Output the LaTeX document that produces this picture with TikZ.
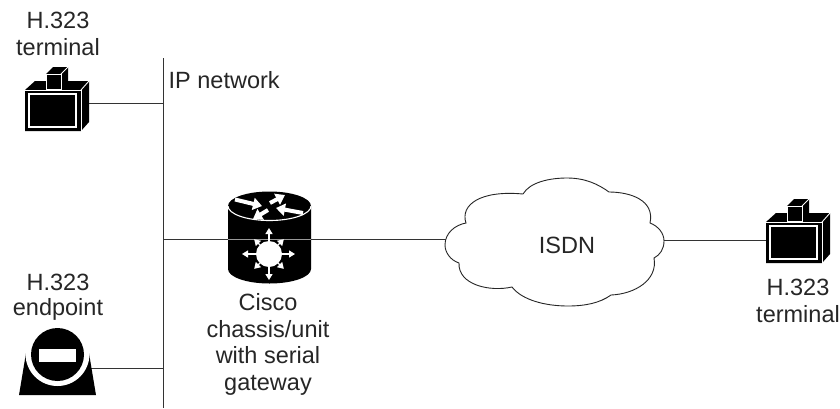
\documentclass[tikz,border=0pt]{standalone}
\usepackage{fontspec}
\setmainfont{Liberation Sans}
\usetikzlibrary{arrows.meta}
\tikzset{
  wire/.style={draw=black!80,line width=0.8pt},
  lbl/.style={align=center,anchor=base,font=\fontsize{23.5}{26.5}\selectfont,text=black!85,inner sep=0pt},
  whiteline/.style={draw=white,line width=1.1pt},
  rarrow/.style={draw=white,line width=4pt,-{Triangle[length=9pt,width=12pt,fill=white]}},
  sarrow/.style={draw=white,line width=1.3pt,-{Triangle[length=6pt,width=7pt,fill=white]}},
  terminalshape/.pic={
    \fill[black] (25,90) -- (35,81) -- (89,81) -- (89,122) -- (81,131) -- (25,131) -- cycle;
    \draw[whiteline,line width=0.9pt] (25,90) -- (81,90) -- (81,131);
    \draw[whiteline,line width=0.9pt] (81,90) -- (89,81);
    \draw[whiteline,line width=1.2pt] (29,94) rectangle (76,127);
    \fill[black] (46,74) -- (53,67) -- (68,67) -- (68,81) -- (61,89) -- (46,89) -- cycle;
    \draw[whiteline,line width=0.9pt] (46,74) -- (61,74) -- (61,89) -- (46,89) -- cycle;
    \draw[whiteline,line width=0.9pt] (61,74) -- (68,67);
  }
}
\begin{document}
\begin{tikzpicture}[x=1pt,y=-1pt]
\useasboundingbox (0,0) rectangle (840,408);
\fill[white] (0,0) rectangle (840,408);
% junction points
\coordinate (ipTop) at (163,58);
\coordinate (ipBot) at (163,408);
\coordinate (ipT) at (163,103);
\coordinate (ipR) at (163,239);
\coordinate (ipE) at (163,368);
\coordinate (termL) at (89,103);
\coordinate (routerL) at (228,239);
\coordinate (routerR) at (311,239);
\coordinate (cloudL) at (446,239);
\coordinate (cloudR) at (663,240);
\coordinate (termR) at (766,240);
\coordinate (endp) at (90,368);
\draw[wire] (ipTop) -- (ipBot);
\draw[wire] (termL) -- (ipT);
\draw[wire] (ipR) -- (routerL);
\draw[wire] (routerR) -- (cloudL);
\draw[wire] (cloudR) -- (termR);
\draw[wire] (endp) -- (ipE);
% left terminal
\pic at (0,0) {terminalshape};
% right terminal
\pic at (741,132) {terminalshape};
% router
\fill[black] (228,206) -- (228,269) arc[start angle=180,end angle=360,x radius=41.5,y radius=-14.5] -- (311,206) arc[start angle=0,end angle=-180,x radius=41.5,y radius=14.5] -- cycle;
\draw[whiteline] (228,206) arc[start angle=180,end angle=360,x radius=41.5,y radius=-14.5];
\draw[draw=white!60!black,line width=0.5pt] (228,239) -- (311,239);
\fill[white] (269,254) circle[radius=13];
\foreach \a/\r in {0/26,45/21,90/26,135/21,180/27,225/21,270/26,315/21}
  \draw[sarrow] (269,254) ++(\a:13) -- ++(\a:\r-13);
\draw[rarrow] (235,199.5) -- (262,206);
\draw[rarrow] (270,203) -- (285,195);
\draw[rarrow] (303,213) -- (276,208);
\draw[rarrow] (268,210) -- (253,219);
% cloud
\draw[draw=black!85,fill=white,line width=0.9pt] (523,194)
 .. controls (530,182) and (550,178) .. (567,178)
 .. controls (585,178) and (598,184) .. (609,192)
 .. controls (630,192) and (655,200) .. (650,223)
 .. controls (658,226) and (664,233) .. (664,241)
 .. controls (664,249) and (660,255) .. (654,258)
 .. controls (658,280) and (635,294) .. (611,295)
 .. controls (600,303) and (585,306) .. (568,306)
 .. controls (545,306) and (522,300) .. (512,287)
 .. controls (490,292) and (458,285) .. (459,263)
 .. controls (450,260) and (445,252) .. (445,245)
 .. controls (445,233) and (455,225) .. (466,223)
 .. controls (460,205) and (480,190) .. (523,194);
% labels
\node[lbl] (t1) at (58,55) {H.323\\terminal};
\node[lbl,anchor=base west] (ip) at (168.5,88) {IP network};
\node[lbl] (isdn) at (567,253) {ISDN};
\node[lbl] (t2) at (798,322) {H.323\\terminal};
\node[lbl,font=\fontsize{23.5}{25}\selectfont] (e1) at (58,315) {H.323\\endpoint};
\node[lbl] (cisco) at (268,390) {Cisco\\chassis/unit\\with serial\\gateway};
% endpoint
\fill[black] (26,353) -- (19,395) -- (96,395) -- (89,353) -- cycle;
\fill[white] (57.5,354) circle[radius=32];
\fill[black] (57.5,354.5) circle[radius=26.5];
\fill[white] (39,349) rectangle (76,362);
\end{tikzpicture}
\end{document}
